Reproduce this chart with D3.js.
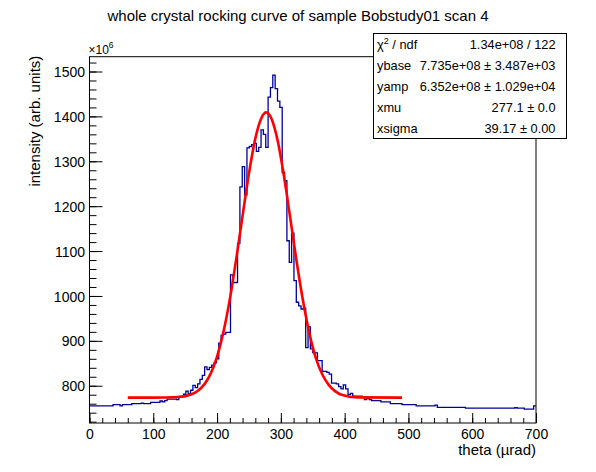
<!DOCTYPE html>
<html>
<head>
<meta charset="utf-8">
<script src="https://cdn.jsdelivr.net/npm/d3@7"></script>
<style>
  body { margin: 0; background: #fff; }
  svg { display: block; font-family: "Liberation Sans", Arial, Helvetica, sans-serif; }
</style>
</head>
<body>
<svg id="chart" width="596" height="472"></svg>
<script>
// histogram: 190 bins from 0 to 700 urad, intensity in units of 1e6
const histMin = 0;
const histMax = 700;
const counts = [
  755, 755, 755, 755, 755, 755, 755, 755, 755, 755,
  758, 758, 758, 755, 758, 758, 758, 758, 760, 760,
  760, 760, 761, 760, 760, 760, 763, 763, 763, 763,
  766, 764, 767, 770, 770, 770, 770, 769, 776, 776,
  781, 788, 782, 790, 801, 796, 804, 814, 823, 842,
  836, 841, 846, 851, 860, 895, 912, 915, 919, 919,
  1047, 1030, 1030, 1117, 1243, 1288, 1225, 1330, 1333, 1337,
  1340, 1322, 1331, 1370, 1360, 1331, 1443, 1464, 1492, 1462,
  1434, 1420, 1275, 1257, 1123, 1075, 1140, 1034, 986, 978,
  971, 973, 885, 931, 882, 874, 873, 856, 856, 832,
  832, 830, 826, 806, 806, 804, 798, 793, 802, 793,
  780, 783, 777, 777, 777, 777, 774, 769, 772, 769,
  767, 767, 767, 767, 764, 764, 764, 764, 760, 760,
  760, 760, 760, 758, 758, 758, 758, 758, 758, 755,
  755, 755, 755, 755, 755, 755, 755, 757, 752, 752,
  752, 752, 752, 752, 752, 752, 752, 752, 752, 752,
  750, 750, 750, 750, 750, 750, 750, 750, 750, 750,
  750, 750, 750, 750, 750, 750, 750, 750, 750, 750,
  750, 751, 750, 750, 750, 748, 748, 748, 748, 755
];

// fitted curve (fit range 60 - 490)
const fitTheta = [60, 100, 140, 160, 170, 180, 190, 200, 210, 220, 230, 240, 250, 260, 270, 277,
                  285, 295, 305, 315, 325, 335, 345, 355, 365, 375, 385, 395, 420, 490];
const fitValue = [773.5, 773.5, 775, 781, 789, 803, 827, 865, 920, 993, 1082, 1179, 1273, 1351, 1398, 1409,
                  1396, 1346, 1266, 1171, 1074, 987, 915, 861, 825, 802, 788, 780, 774, 773.5];

const xTicks = [0, 100, 200, 300, 400, 500, 600, 700];
const yTicks = [800, 900, 1000, 1100, 1200, 1300, 1400, 1500];

const statNames = ["ndf", "ybase", "yamp", "xmu", "xsigma"];
const statValues = ["1.34e+08 / 122", "7.735e+08 \u00b1 3.487e+03", "6.352e+08 \u00b1 1.029e+04",
                    "277.1 \u00b1 0.0", "39.17 \u00b1 0.00"];

const svg = d3.select("#chart");

const frame = { left: 89.5, right: 536, top: 56.7, bottom: 423 };

const x = d3.scaleLinear().domain([histMin, histMax]).range([frame.left, frame.right]);
const y = d3.scaleLinear().domain([717, 1533]).range([frame.bottom, frame.top]);

// frame
svg.append("rect")
  .attr("x", frame.left).attr("y", frame.top)
  .attr("width", frame.right - frame.left).attr("height", frame.bottom - frame.top)
  .attr("fill", "none").attr("stroke", "#000").attr("stroke-width", 1);

// histogram outline
const binW = (histMax - histMin) / counts.length;
const steps = counts.map((c, i) => [histMin + i * binW, c]);
steps.push([histMax, counts[counts.length - 1]]);

svg.append("path")
  .datum(steps)
  .attr("fill", "none")
  .attr("stroke", "#000099")
  .attr("stroke-width", 1.3)
  .attr("d", d3.line().x(d => x(d[0])).y(d => y(d[1])).curve(d3.curveStepAfter));

// fit
svg.append("path")
  .datum(fitTheta.map((t, i) => [t, fitValue[i]]))
  .attr("fill", "none")
  .attr("stroke", "#ff0000")
  .attr("stroke-width", 2.6)
  .attr("d", d3.line().x(d => x(d[0])).y(d => y(d[1])).curve(d3.curveMonotoneX));

// axes
function styleAxis(g) {
  g.select(".domain").remove();
  g.selectAll("line").attr("stroke", "#000");
  g.selectAll("text").attr("fill", "#000").style("font-size", "14px")
    .style("font-family", "'Liberation Sans', Arial, sans-serif");
}

const xMinor = d3.range(0, 701, 20);
svg.append("g").attr("transform", `translate(0,${frame.bottom})`)
  .call(d3.axisBottom(x).tickValues(xMinor).tickSize(-5).tickFormat(""))
  .call(styleAxis);
svg.append("g").attr("transform", `translate(0,${frame.bottom})`)
  .call(d3.axisBottom(x).tickValues(xTicks).tickSize(-10).tickFormat(d3.format("d")))
  .call(styleAxis)
  .call(g => g.selectAll("text").attr("y", 16).attr("dy", 0));

const yMinor = d3.range(720, 1521, 20);
svg.append("g").attr("transform", `translate(${frame.left},0)`)
  .call(d3.axisLeft(y).tickValues(yMinor).tickSize(-7).tickFormat(""))
  .call(styleAxis);
svg.append("g").attr("transform", `translate(${frame.left},0)`)
  .call(d3.axisLeft(y).tickValues(yTicks).tickSize(-13).tickPadding(4.5).tickFormat(d3.format("d")))
  .call(styleAxis)
  .call(g => g.selectAll("text").attr("dy", "0.36em"));

// x10^6 multiplier
const mult = svg.append("text").attr("x", 88.5).attr("y", 53.5).style("font-size", "12px");
mult.append("tspan").text("\u00d710");
mult.append("tspan").attr("dy", -6).style("font-size", "8.5px").text("6");

// titles
svg.append("text")
  .attr("x", 298).attr("y", 20.5)
  .attr("text-anchor", "middle")
  .style("font-size", "15px")
  .text("whole crystal rocking curve of sample Bobstudy01 scan 4");

svg.append("text")
  .attr("x", frame.right).attr("y", 454.5)
  .attr("text-anchor", "end")
  .style("font-size", "15px")
  .text("theta (\u00b5rad)");

svg.append("text")
  .attr("transform", `translate(40,${frame.top - 1}) rotate(-90)`)
  .attr("text-anchor", "end")
  .style("font-size", "15px")
  .text("intensity (arb. units)");

// stats box
const box = { x: 373.5, y: 33.5, w: 193, h: 105 };
svg.append("rect")
  .attr("x", box.x).attr("y", box.y).attr("width", box.w).attr("height", box.h)
  .attr("fill", "#fff").attr("stroke", "#000").attr("stroke-width", 1);

const rowH = box.h / statNames.length;
statNames.forEach((name, i) => {
  const cy = box.y + rowH * (i + 0.5) + 4.6;
  const lab = svg.append("text").attr("x", box.x + 3.5).attr("y", cy).style("font-size", "12.8px");
  if (i === 0) {
    lab.append("tspan").text("\u03c7");
    lab.append("tspan").attr("dy", -5).style("font-size", "9px").text("2");
    lab.append("tspan").attr("dy", 5).text(" / " + name);
  } else {
    lab.text(name);
  }
  svg.append("text")
    .attr("x", 555.5).attr("y", cy)
    .attr("text-anchor", "end")
    .style("font-size", "12.8px")
    .text(statValues[i]);
});
</script>
</body>
</html>
